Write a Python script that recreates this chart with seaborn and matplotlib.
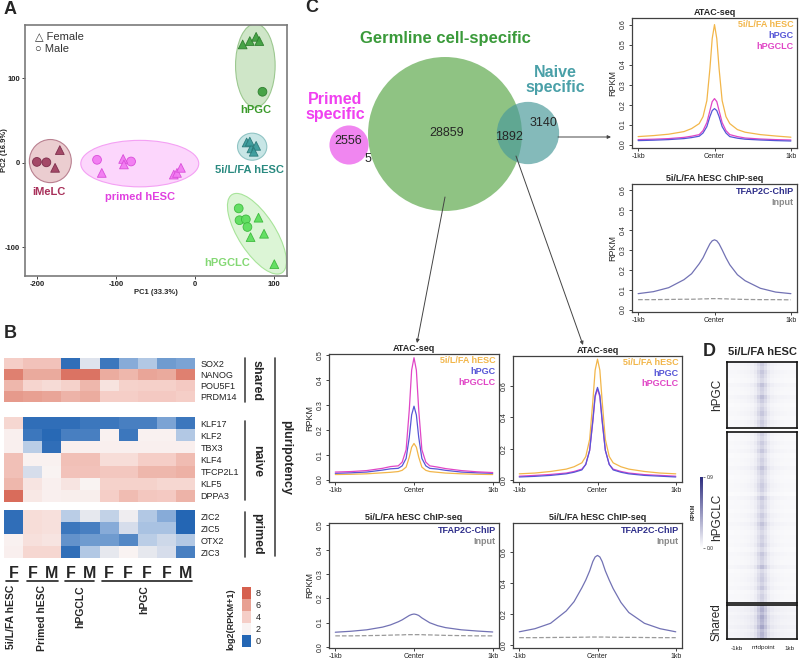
import numpy as np
import pandas as pd
import matplotlib
matplotlib.use("Agg")
import matplotlib.pyplot as plt
import seaborn as sns
from matplotlib.patches import Ellipse, Circle, Rectangle, FancyArrowPatch
from matplotlib.colors import LinearSegmentedColormap
from matplotlib.transforms import Affine2D

sns.set_style("white")
plt.rcParams["font.family"] = ["Liberation Sans", "DejaVu Sans"]
plt.rcParams["axes.unicode_minus"] = False

W, H = 800, 659
fig = plt.figure(figsize=(W / 100, H / 100), dpi=100)
PX = Affine2D().scale(1 / W, -1 / H).translate(0, 1) + fig.transFigure


def px_axes(x0, y0, x1, y1):
    return fig.add_axes([x0 / W, 1 - y1 / H, (x1 - x0) / W, (y1 - y0) / H])


def ftext(x, y, s, **kw):
    return fig.text(x, y, s, transform=PX, **kw)


# ---------------- DATA ----------------
# Panel A: PCA
pca_group = ["iMeLC"] * 4 + ["primed hESC"] * 8 + ["hPGC"] * 5 + ["5i/L/FA hESC"] * 5 + ["hPGCLC"] * 8
pca_sex = (["Male", "Male", "Female", "Female"]
           + ["Male", "Male", "Female", "Female", "Female", "Female", "Female", "Female"]
           + ["Female", "Female", "Female", "Female", "Male"]
           + ["Female"] * 5
           + ["Male", "Male", "Male", "Male", "Female", "Female", "Female", "Female"])
pca_pc1 = [-200, -188, -171, -177,
           -124, -81, -118, -91, -90, -27, -23, -18,
           60, 69, 77, 81, 85,
           65, 71, 69, 77, 74,
           55, 56, 64, 66, 80, 70, 87, 100]
pca_pc2 = [1, 0.5, 15, -6,
           3.5, 1.5, -12, 4.5, -2, -14, -12, -6,
           140, 144, 149, 144, 84,
           24, 17, 25, 20, 13,
           -54, -68, -67, -76, -65, -88, -84, -120]

# Panel B: expression heatmap log2(RPKM+1)
shared_genes = ["SOX2", "NANOG", "POU5F1", "PRDM14"]
shared_vals = [[4.0, 4.5, 4.5, 0.1, 1.7, 0.2, 0.8, 1.2, 0.6, 0.7],
               [7.0, 5.6, 5.6, 7.4, 7.4, 5.5, 5.0, 5.8, 5.6, 7.0],
               [5.0, 3.6, 3.3, 3.8, 5.0, 2.9, 3.8, 3.9, 3.9, 4.2],
               [6.2, 6.0, 5.8, 5.2, 5.5, 4.0, 4.0, 4.2, 4.2, 4.0]]
naive_genes = ["KLF17", "KLF2", "TBX3", "KLF4", "TFCP2L1", "KLF5", "DPPA3"]
naive_vals = [[3.5, 0.1, 0.1, 0.1, 0.2, 0.2, 0.3, 0.3, 0.7, 0.2],
              [2.2, 0.2, 0.05, 0.3, 0.3, 2.1, 0.2, 2.1, 2.1, 1.2],
              [2.2, 1.3, 0.1, 2.2, 2.2, 2.2, 2.2, 2.2, 2.2, 2.2],
              [4.6, 2.1, 2.1, 4.6, 4.6, 3.2, 3.2, 4.0, 4.0, 4.8],
              [4.6, 1.6, 2.0, 4.5, 4.5, 4.3, 4.3, 5.0, 5.0, 5.3],
              [5.0, 2.8, 2.2, 2.8, 2.0, 3.8, 3.8, 3.8, 3.5, 3.5],
              [7.6, 2.6, 2.2, 2.3, 2.3, 4.0, 4.8, 4.3, 4.2, 5.2]]
primed_genes = ["ZIC2", "ZIC5", "OTX2", "ZIC3"]
primed_vals = [[0.1, 3.2, 3.0, 1.3, 1.8, 1.4, 1.9, 1.2, 0.8, 0.0],
               [0.1, 3.2, 3.0, 0.2, 0.3, 0.8, 1.6, 1.1, 1.1, 0.0],
               [2.1, 3.0, 2.8, 0.5, 0.6, 0.6, 0.4, 1.3, 1.5, 1.2],
               [2.2, 3.5, 3.5, 0.1, 1.2, 1.8, 2.0, 1.8, 1.6, 0.3]]
sample_sex = ["F", "F", "M", "F", "M", "F", "F", "F", "F", "M"]
legend_levels = [8, 6, 4, 2, 0]

# Panel C: Venn counts
venn_counts = {"primed_only": 2556, "primed_germ": 5, "germ_only": 28859,
               "germ_naive": 1892, "naive_only": 3140}

# Profiles (kb from center)
x_kb = [-1, -0.8, -0.6, -0.4, -0.3, -0.2, -0.15, -0.1, -0.06, -0.03, 0,
        0.03, 0.06, 0.1, 0.15, 0.2, 0.3, 0.4, 0.6, 0.8, 1]
# top-right ATAC (naive specific)
tr_5i = [0.040, 0.045, 0.052, 0.065, 0.080, 0.105, 0.140, 0.220, 0.380, 0.530, 0.600,
         0.530, 0.380, 0.220, 0.140, 0.105, 0.075, 0.062, 0.050, 0.043, 0.037]
tr_pgclc = [0.025, 0.027, 0.030, 0.036, 0.042, 0.050, 0.070, 0.110, 0.170, 0.215, 0.230,
            0.215, 0.170, 0.110, 0.070, 0.050, 0.040, 0.033, 0.028, 0.025, 0.023]
tr_pgc = [0.020, 0.022, 0.025, 0.030, 0.035, 0.042, 0.058, 0.090, 0.140, 0.170, 0.180,
          0.170, 0.140, 0.090, 0.058, 0.040, 0.032, 0.027, 0.023, 0.020, 0.018]
tr_chip = [0.080, 0.090, 0.110, 0.150, 0.180, 0.230, 0.260, 0.300, 0.330, 0.345, 0.350,
           0.345, 0.330, 0.300, 0.260, 0.225, 0.175, 0.145, 0.107, 0.088, 0.080]
tr_input = [0.050, 0.050, 0.051, 0.052, 0.052, 0.053, 0.054, 0.054, 0.055, 0.055, 0.055,
            0.055, 0.055, 0.054, 0.054, 0.053, 0.052, 0.051, 0.050, 0.050, 0.049]
# bottom-left ATAC (germline specific)
bl_pgclc = [0.030, 0.032, 0.036, 0.045, 0.052, 0.055, 0.070, 0.120, 0.280, 0.440, 0.490,
            0.440, 0.280, 0.120, 0.070, 0.055, 0.050, 0.044, 0.036, 0.031, 0.028]
bl_pgc = [0.025, 0.027, 0.030, 0.038, 0.043, 0.045, 0.055, 0.085, 0.170, 0.260, 0.295,
          0.260, 0.170, 0.085, 0.055, 0.045, 0.042, 0.037, 0.030, 0.027, 0.025]
bl_5i = [0.020, 0.021, 0.023, 0.027, 0.029, 0.032, 0.037, 0.050, 0.090, 0.130, 0.145,
         0.130, 0.090, 0.050, 0.037, 0.032, 0.029, 0.026, 0.023, 0.021, 0.020]
bl_chip = [0.060, 0.064, 0.070, 0.081, 0.090, 0.103, 0.111, 0.121, 0.129, 0.133, 0.135,
           0.133, 0.129, 0.119, 0.109, 0.099, 0.087, 0.079, 0.070, 0.065, 0.061]
bl_input = [0.045, 0.045, 0.046, 0.047, 0.048, 0.049, 0.049, 0.050, 0.050, 0.050, 0.050,
            0.050, 0.050, 0.050, 0.049, 0.049, 0.048, 0.047, 0.046, 0.045, 0.045]
# bottom-right ATAC (germline & naive shared)
br_5i = [0.040, 0.045, 0.055, 0.070, 0.085, 0.110, 0.150, 0.260, 0.500, 0.700, 0.770,
         0.700, 0.500, 0.260, 0.150, 0.110, 0.085, 0.070, 0.055, 0.045, 0.040]
br_pgc = [0.020, 0.024, 0.030, 0.040, 0.050, 0.065, 0.100, 0.190, 0.380, 0.540, 0.590,
          0.540, 0.380, 0.190, 0.100, 0.065, 0.050, 0.040, 0.030, 0.025, 0.020]
br_pgclc = [0.025, 0.030, 0.036, 0.045, 0.055, 0.070, 0.100, 0.190, 0.370, 0.530, 0.580,
            0.530, 0.370, 0.190, 0.100, 0.070, 0.055, 0.045, 0.035, 0.030, 0.025]
br_chip = [0.085, 0.105, 0.140, 0.220, 0.280, 0.370, 0.420, 0.480, 0.540, 0.570, 0.580,
           0.570, 0.540, 0.480, 0.420, 0.365, 0.275, 0.210, 0.140, 0.105, 0.085]
br_input = [0.047, 0.047, 0.048, 0.049, 0.049, 0.050, 0.050, 0.051, 0.051, 0.051, 0.051,
            0.051, 0.051, 0.051, 0.050, 0.050, 0.049, 0.049, 0.048, 0.047, 0.047]

# Panel D: TFAP2C heatmap (column profile and per-row strengths)
d_profile = [0.03, 0.03, 0.032, 0.034, 0.036, 0.04, 0.045, 0.055, 0.08, 0.14, 0.2,
             0.14, 0.08, 0.055, 0.045, 0.04, 0.036, 0.034, 0.032, 0.03, 0.03]
d_rows_pgc = [1.1, 0.9, 1.2, 1.0, 0.8, 1.3, 1.0, 0.9, 1.4, 1.1, 0.8, 1.0, 1.2, 0.9, 1.1, 1.0]
d_rows_pgclc = [1.0, 0.8, 1.1, 0.9, 1.2, 0.8, 1.0, 0.9, 1.3, 1.0, 0.8, 0.9, 1.1, 1.0, 0.7, 1.2,
                0.9, 1.0, 0.8, 1.1, 0.9, 1.3, 1.0, 0.8, 1.0, 0.9, 1.1, 0.8, 1.2, 1.0,
                0.9, 1.4, 0.8, 1.0, 1.1, 0.9, 1.2, 0.8, 1.0, 0.9]
d_rows_shared = [1.5, 1.7, 1.4, 1.8, 1.6, 1.5, 1.9, 1.4, 1.6, 1.5]

# ---------------- PANEL A ----------------
grp_style = {
    "iMeLC": dict(mk="#a04262", me="#7a2a48", ef="#ebcdd0", ee="#b98090", lc="#a8305a"),
    "primed hESC": dict(mk="#f27af2", me="#d84ad8", ef="#fcd6fc", ee="#f4a0f4", lc="#e040e0"),
    "hPGC": dict(mk="#40a040", me="#2c7c2c", ef="#cfe6c8", ee="#9cc890", lc="#3a9a2a"),
    "5i/L/FA hESC": dict(mk="#3c9c9c", me="#2a7878", ef="#c8e6e6", ee="#90c4c4", lc="#2a8a80"),
    "hPGCLC": dict(mk="#5ede5e", me="#3cb83c", ef="#dcf5d6", ee="#a8e49a", lc="#84d874"),
}
ellipses = {  # center, width, height, angle in data units
    "iMeLC": ((-183, 2), 53, 51, 0),
    "primed hESC": ((-70, -1), 149, 55, 0),
    "hPGC": ((76, 115), 50, 99, 0),
    "5i/L/FA hESC": ((72, 19), 37, 32, 0),
    "hPGCLC": ((78, -84), 112, 46, -55),
}
label_pos = {"iMeLC": (-185, -35), "primed hESC": (-70, -40), "hPGC": (76, 62),
             "5i/L/FA hESC": (68, -9), "hPGCLC": (40, -119)}

axA = px_axes(25, 25, 287, 276)
df_pca = pd.DataFrame({"PC1": pca_pc1, "PC2": pca_pc2, "group": pca_group, "sex": pca_sex})
for g, st in grp_style.items():
    (cx, cy), ew, eh, ang = ellipses[g]
    axA.add_patch(Ellipse((cx, cy), ew, eh, angle=ang, facecolor=st["ef"],
                          edgecolor=st["ee"], lw=0.8, zorder=1))
for g, st in grp_style.items():
    sub = df_pca[df_pca.group == g]
    sns.scatterplot(data=sub, x="PC1", y="PC2", style="sex",
                    markers={"Female": "^", "Male": "o"}, style_order=["Female", "Male"],
                    color=st["mk"], edgecolor=st["me"], linewidth=0.6, s=40,
                    alpha=0.95, legend=False, ax=axA, zorder=3)
    lx, ly = label_pos[g]
    axA.text(lx, ly, g, color=st["lc"], fontsize=8, fontweight="bold",
             ha="center", va="center", zorder=4)
axA.set_xlim(-215, 116)
axA.set_ylim(-134, 163)
axA.set_xticks([-200, -100, 0, 100])
axA.set_yticks([-100, 0, 100])
axA.tick_params(axis="both", length=2, width=0.6, pad=1.5, labelsize=5.5, colors="#222222",
                left=True, bottom=True)
for lab in axA.get_xticklabels() + axA.get_yticklabels():
    lab.set_fontweight("bold")
axA.set_xlabel("PC1 (33.3%)", fontsize=5.5, fontweight="bold", labelpad=1)
axA.set_ylabel("PC2 (16.9%)", fontsize=5.5, fontweight="bold")
axA.yaxis.set_label_coords(-0.066, 0.5)
for sp in axA.spines.values():
    sp.set_color("#7a7a7a")
    sp.set_linewidth(1.2)
axA.text(0.04, 0.955, "\u25b3 Female", transform=axA.transAxes, fontsize=8, va="center",
         color="#333333")
axA.text(0.04, 0.905, "\u25cb Male", transform=axA.transAxes, fontsize=8, va="center",
         color="#333333")

# ---------------- PANEL B ----------------
cmapB = LinearSegmentedColormap.from_list(
    "bb", [(0.0, "#2466b4"), (0.12, "#9dbbe0"), (0.25, "#f9f3f2"),
           (0.5, "#f5cec7"), (0.75, "#e8a193"), (1.0, "#d6604e")])
blocks = [(shared_genes, shared_vals, (4, 358, 195, 402)),
          (naive_genes, naive_vals, (4, 417, 195, 502)),
          (primed_genes, primed_vals, (4, 510, 195, 558))]
for genes, vals, box in blocks:
    ax = px_axes(*box)
    dfb = pd.DataFrame(vals, index=genes)
    sns.heatmap(dfb, ax=ax, cmap=cmapB, vmin=0, vmax=8, cbar=False,
                xticklabels=False, yticklabels=True)
    ax.yaxis.tick_right()
    ax.set_yticklabels(genes, rotation=0, fontsize=6.5, color="#222222")
    ax.tick_params(axis="y", length=0, pad=4)
    ax.set_ylabel("")

# brackets
fig.add_artist(plt.Line2D([245, 245], [358, 402], transform=PX, color="#444444", lw=1.2))
fig.add_artist(plt.Line2D([245, 245], [421, 500], transform=PX, color="#444444", lw=1.2))
fig.add_artist(plt.Line2D([245, 245], [512, 557], transform=PX, color="#444444", lw=1.2))
fig.add_artist(plt.Line2D([275, 275], [358, 556], transform=PX, color="#444444", lw=1.2))
ftext(257, 380, "shared", rotation=-90, fontsize=9, fontweight="bold", ha="center", va="center")
ftext(257, 461, "naive", rotation=-90, fontsize=9, fontweight="bold", ha="center", va="center")
ftext(257, 534, "primed", rotation=-90, fontsize=9, fontweight="bold", ha="center", va="center")
ftext(286, 457, "pluripotency", rotation=-90, fontsize=9, fontweight="bold", ha="center",
      va="center")

col_w = (195 - 4) / 10
for i, s in enumerate(sample_sex):
    ftext(4 + col_w * (i + 0.5), 573, s, fontsize=11.5, fontweight="bold", ha="center",
          va="center")
for x0, x1 in [(6, 18), (27, 58), (65, 94), (102, 192)]:
    fig.add_artist(plt.Line2D([x0, x1], [581, 581], transform=PX, color="#222222", lw=1.2))
for x, s in [(11, "5i/L/FA hESC"), (42, "Primed hESC"), (80, "hPGCLC"), (144, "hPGC")]:
    ftext(x, 585, s, rotation=90, fontsize=7.5, fontweight="bold", ha="center", va="top")
ftext(231, 619, "log2(RPKM+1)", rotation=90, fontsize=6.5, fontweight="bold", ha="center",
      va="center")
for i, lv in enumerate(legend_levels):
    y0 = 587 + i * 12
    fig.add_artist(Rectangle((242, y0), 9, 12, transform=PX,
                             facecolor=cmapB(lv / 8), edgecolor="none"))
    ftext(256, y0 + 6, str(lv), fontsize=6.5, ha="left", va="center", color="#222222")

# ---------------- PANEL C: Venn ----------------
axV = px_axes(300, 0, 590, 240)
axV.set_xlim(300, 590)
axV.set_ylim(240, 0)
axV.axis("off")
k = 0.439
r_germ = k * np.sqrt(venn_counts["germ_only"] + venn_counts["primed_germ"] + venn_counts["germ_naive"])
r_naive = k * np.sqrt(venn_counts["germ_naive"] + venn_counts["naive_only"])
r_primed = k * np.sqrt(venn_counts["primed_only"] + venn_counts["primed_germ"]) * 0.88
axV.add_patch(Circle((445, 134), r_germ, facecolor="#8fc383", edgecolor="none"))
axV.add_patch(Circle((528, 133), r_naive, facecolor="#4a9a9a", alpha=0.68, edgecolor="none"))
axV.add_patch(Circle((349, 145), r_primed, facecolor="#f080f0", alpha=0.95, edgecolor="none"))
axV.text(447, 133, f"{venn_counts['germ_only']}", fontsize=9, ha="center", va="center")
axV.text(348, 141, f"{venn_counts['primed_only']}", fontsize=9, ha="center", va="center")
axV.text(368, 159, f"{venn_counts['primed_germ']}", fontsize=9, ha="center", va="center")
axV.text(509, 137, f"{venn_counts['germ_naive']}", fontsize=9, ha="center", va="center")
axV.text(543, 123, f"{venn_counts['naive_only']}", fontsize=9, ha="center", va="center")
axV.text(445, 38, "Germline cell-specific", fontsize=12, fontweight="bold", color="#3a9a3a",
         ha="center", va="center")
axV.text(335, 107, "Primed\nspecific", fontsize=11.5, fontweight="bold", color="#f040f0",
         ha="center", va="center", linespacing=1.0)
axV.text(555, 80, "Naive\nspecific", fontsize=11.5, fontweight="bold", color="#4aa0a8",
         ha="center", va="center", linespacing=1.0)
axV.text(305, 8, "C", fontsize=13, fontweight="bold", ha="left", va="center")

for (xa, ya), (xb, yb) in [((558, 137), (611, 137)), ((445, 197), (417, 343)),
                           ((516, 156), (583, 345))]:
    fig.add_artist(FancyArrowPatch((xa, ya), (xb, yb), transform=PX, arrowstyle="-|>",
                                   mutation_scale=5, color="#444444", lw=0.7,
                                   shrinkA=0, shrinkB=0))

# ---------------- Profile plots ----------------
C5I, CPGC, CPGCLC = "#f2b64a", "#5656d6", "#e046c6"
CCHIP, CINPUT = "#7272b4", "#9a9a9a"


def profile_axes(box, title, ylim, yticks):
    ax = px_axes(*box)
    ax.set_xlim(-1.08, 1.08)
    ax.set_ylim(*ylim)
    ax.set_xticks([-1, 0, 1])
    ax.set_xticklabels(["-1kb", "Center", "1kb"])
    ax.set_yticks(yticks)
    ax.set_yticklabels([f"{t:.1f}" for t in yticks], rotation=90, va="center")
    ax.tick_params(axis="both", length=2, width=0.6, pad=1.5, labelsize=5, colors="#222222",
                   left=True, bottom=True)
    for sp in ax.spines.values():
        sp.set_color("#404040")
        sp.set_linewidth(0.9)
    ax.set_title(title, fontsize=6.5, fontweight="bold", pad=2)
    return ax


def atac_legend(ax):
    for i, (s, c) in enumerate([("5i/L/FA hESC", C5I), ("hPGC", CPGC), ("hPGCLC", CPGCLC)]):
        ax.text(0.98, 0.95 - i * 0.085, s, color=c, fontsize=6.5, fontweight="bold",
                ha="right", va="center", transform=ax.transAxes)


def chip_legend(ax):
    ax.text(0.98, 0.94, "TFAP2C-ChIP", color="#2e2e8a", fontsize=6.5, fontweight="bold",
            ha="right", va="center", transform=ax.transAxes)
    ax.text(0.98, 0.855, "Input", color="#8a8a8a", fontsize=6.5, fontweight="bold",
            ha="right", va="center", transform=ax.transAxes)


def draw(ax, y, c, ls="-"):
    sns.lineplot(x=x_kb, y=y, ax=ax, color=c, lw=0.9, linestyle=ls)


ax = profile_axes((632, 18, 797, 148), "ATAC-seq", (-0.017, 0.633),
                  [0.0, 0.1, 0.2, 0.3, 0.4, 0.5, 0.6])
draw(ax, tr_5i, C5I); draw(ax, tr_pgclc, CPGCLC); draw(ax, tr_pgc, CPGC)
ax.set_ylabel("RPKM", fontsize=6.5, labelpad=2)
atac_legend(ax)

ax = profile_axes((632, 184, 797, 312), "5i/L/FA hESC ChIP-seq", (-0.012, 0.63),
                  [0.0, 0.1, 0.2, 0.3, 0.4, 0.5, 0.6])
draw(ax, tr_chip, CCHIP); draw(ax, tr_input, CINPUT, "--")
ax.set_ylabel("RPKM", fontsize=6.5, labelpad=2)
chip_legend(ax)

ax = profile_axes((329, 354, 499, 482), "ATAC-seq", (-0.01, 0.505),
                  [0.0, 0.1, 0.2, 0.3, 0.4, 0.5])
draw(ax, bl_5i, C5I); draw(ax, bl_pgc, CPGC); draw(ax, bl_pgclc, CPGCLC)
ax.set_ylabel("RPKM", fontsize=6.5, labelpad=2)
atac_legend(ax)

ax = profile_axes((513, 356, 682, 482), "ATAC-seq", (-0.012, 0.79), [0.0, 0.2, 0.4, 0.6])
draw(ax, br_5i, C5I); draw(ax, br_pgclc, CPGCLC); draw(ax, br_pgc, CPGC)
atac_legend(ax)

ax = profile_axes((329, 523, 499, 648), "5i/L/FA hESC ChIP-seq", (-0.005, 0.51),
                  [0.0, 0.1, 0.2, 0.3, 0.4, 0.5])
draw(ax, bl_chip, CCHIP); draw(ax, bl_input, CINPUT, "--")
ax.set_ylabel("RPKM", fontsize=6.5, labelpad=2)
chip_legend(ax)

ax = profile_axes((513, 523, 682, 648), "5i/L/FA hESC ChIP-seq", (-0.02, 0.79),
                  [0.0, 0.2, 0.4, 0.6])
draw(ax, br_chip, CCHIP); draw(ax, br_input, CINPUT, "--")
chip_legend(ax)

# ---------------- PANEL D ----------------
cmapD = LinearSegmentedColormap.from_list("dd", ["#ffffff", "#2c2c7e"])
cax = px_axes(700, 477, 703, 548)
d_blocks = [("hPGC", d_rows_pgc, (727, 362, 797, 428)),
            ("hPGCLC", d_rows_pgclc, (727, 432, 797, 603)),
            ("Shared", d_rows_shared, (727, 605, 797, 639))]
for i, (name, rows, box) in enumerate(d_blocks):
    ax = px_axes(*box)
    mat = np.outer(rows, d_profile)
    sns.heatmap(mat, ax=ax, cmap=cmapD, vmin=0, vmax=0.9, cbar=(i == 0),
                cbar_ax=cax if i == 0 else None, xticklabels=False, yticklabels=False,
                cbar_kws={"ticks": [0.0, 0.9]} if i == 0 else None)
    for sp in ax.spines.values():
        sp.set_visible(True)
        sp.set_color("#111111")
        sp.set_linewidth(1.2)
    ax.set_ylabel(name, fontsize=8.5, labelpad=3)
cax.tick_params(labelsize=3.5, length=1.5, width=0.4, pad=1)
cax.set_yticklabels(["0.0", "0.9"])
for sp in cax.spines.values():
    sp.set_visible(False)
ftext(693, 512, "RPKM", rotation=90, fontsize=4, fontweight="bold", ha="center", va="center",
      color="#333333")
ftext(762, 352, "5i/L/FA hESC", fontsize=8, fontweight="bold", ha="center", va="center")
ftext(737, 648, "-1kb", fontsize=4.5, ha="center", va="center")
ftext(763, 648, "midpoint", fontsize=4.5, ha="center", va="center")
ftext(790, 648, "1kb", fontsize=4.5, ha="center", va="center")

# Panel letters
ftext(4, 10, "A", fontsize=13, fontweight="bold", ha="left", va="center")
ftext(4, 334, "B", fontsize=13, fontweight="bold", ha="left", va="center")
ftext(703, 352, "D", fontsize=13, fontweight="bold", ha="left", va="center")

fig.savefig("out.png", dpi=100)
